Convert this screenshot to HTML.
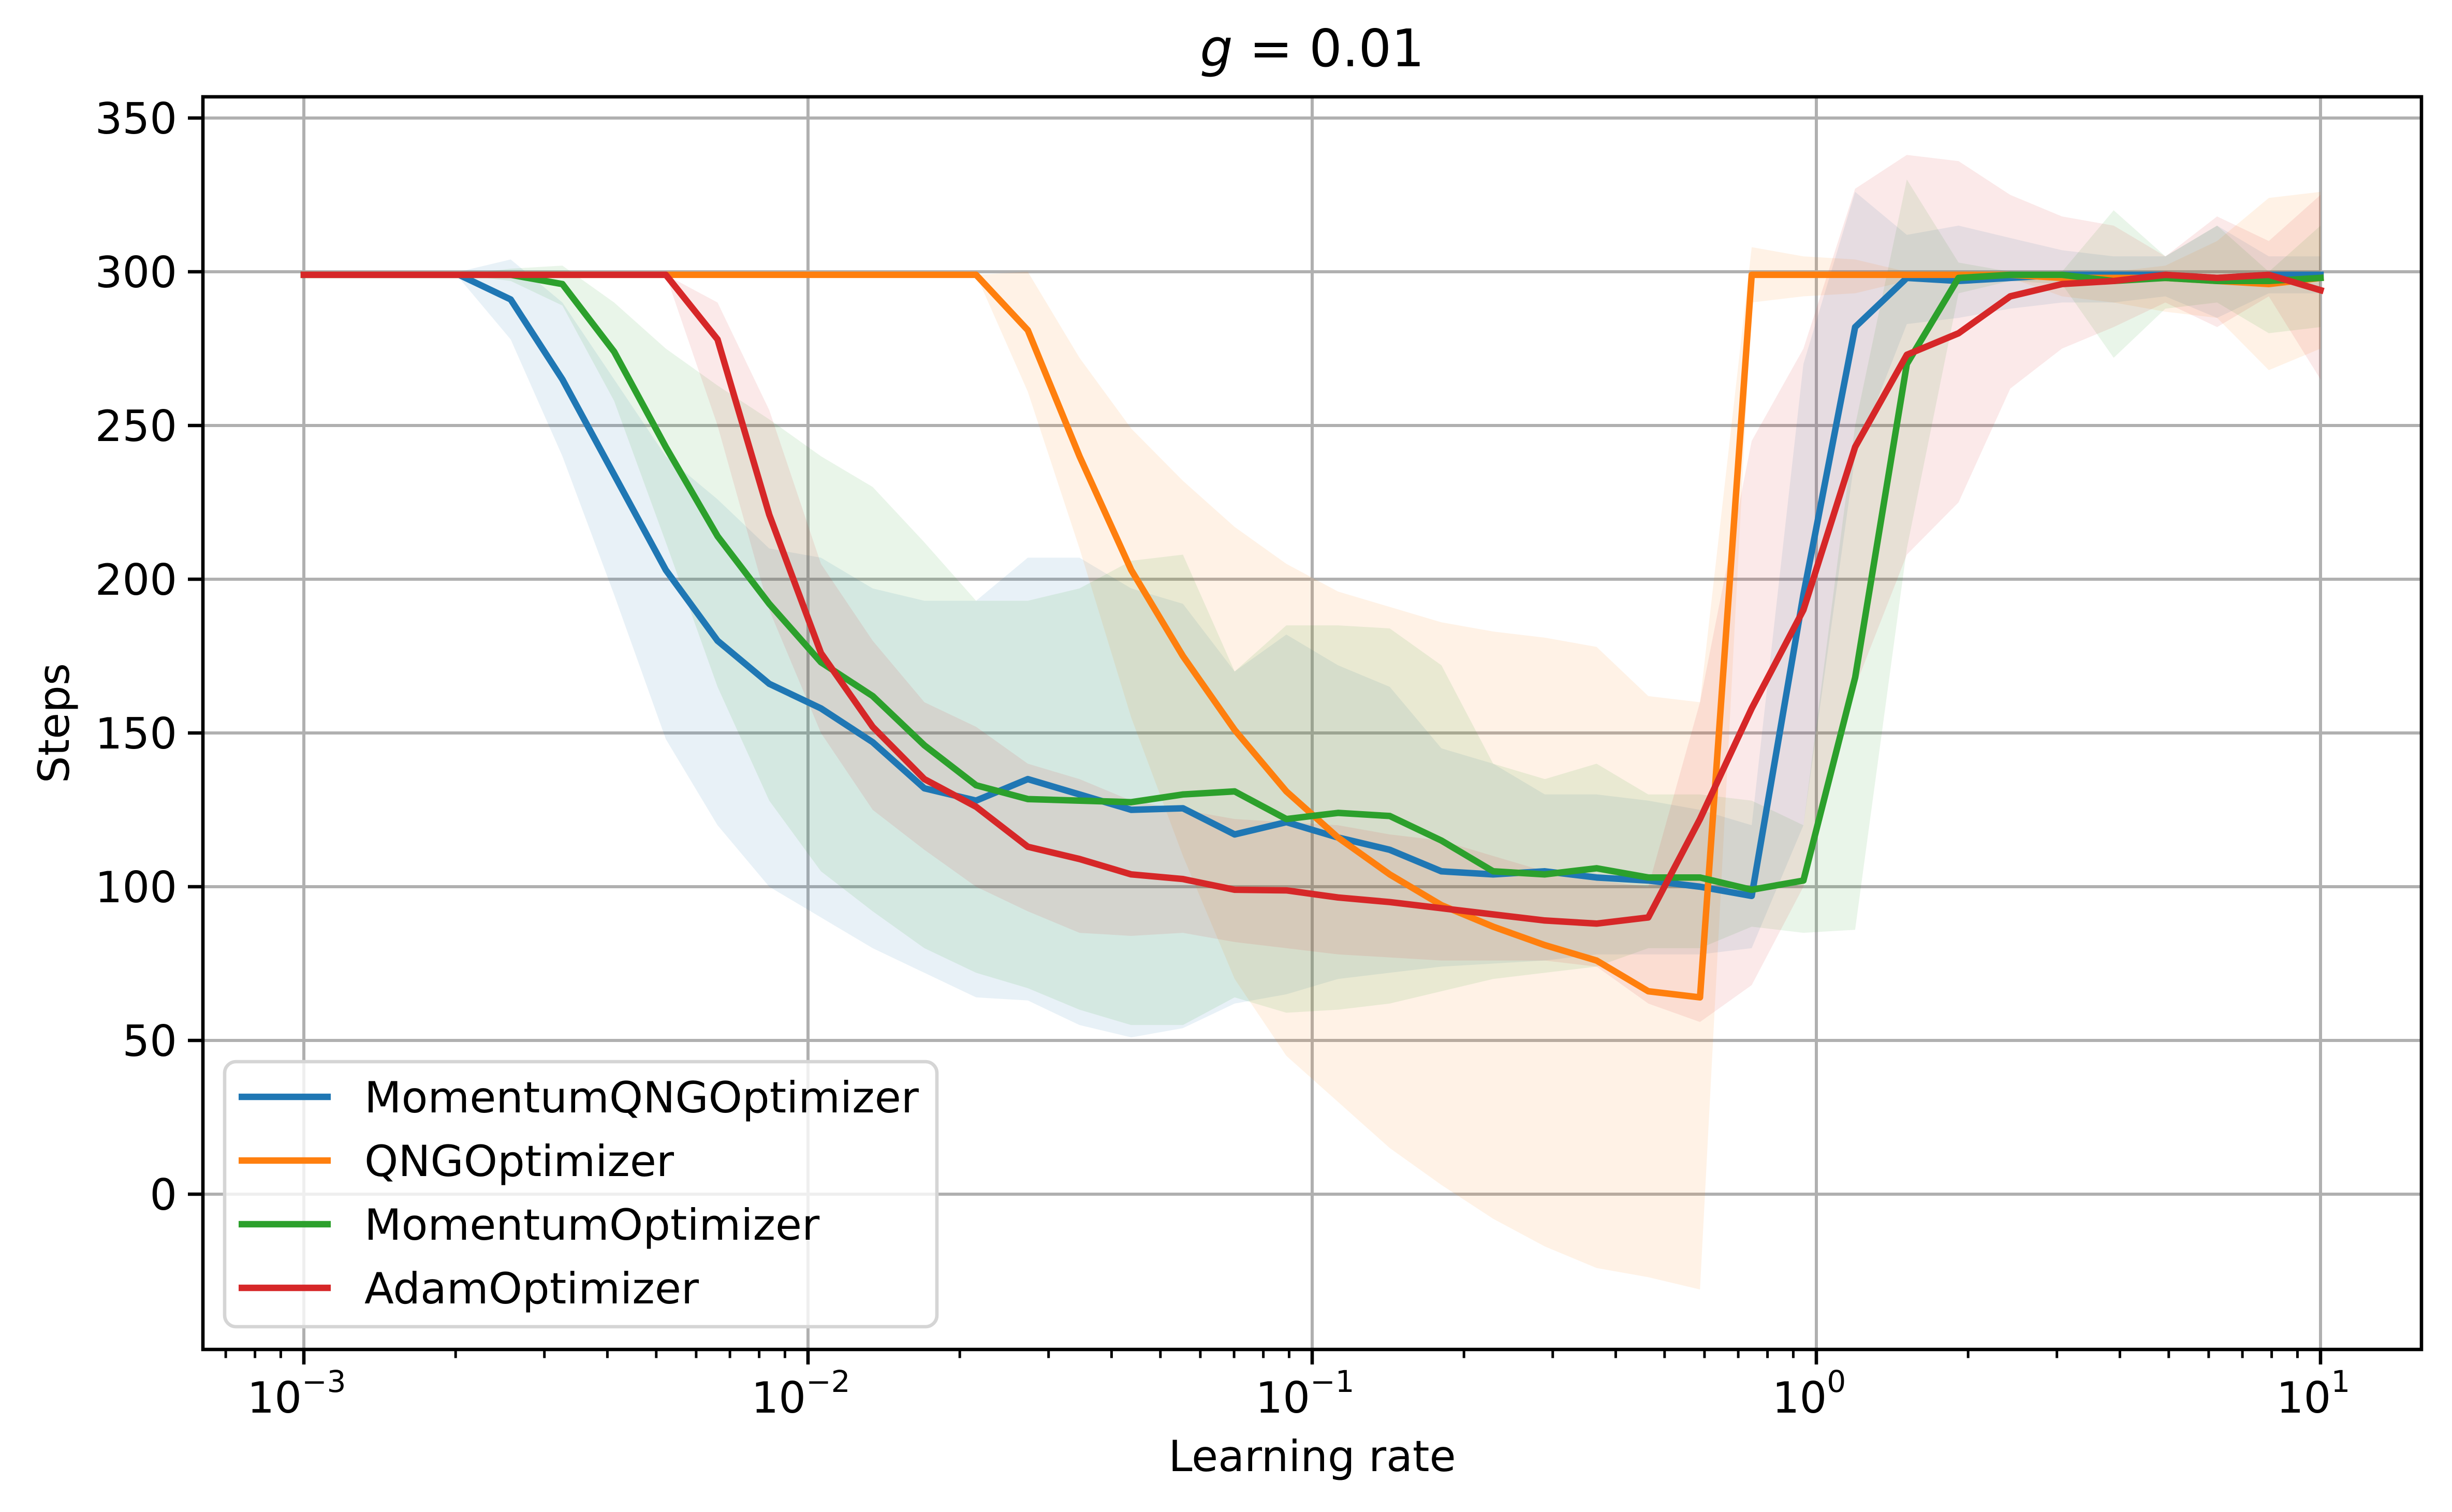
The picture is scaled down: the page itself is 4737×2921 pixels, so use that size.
<!DOCTYPE html>
<html><head><meta charset="utf-8"><style>
html,body{margin:0;padding:0;background:#fff;}
svg{display:block;font-family:"DejaVu Sans","Liberation Sans",sans-serif;}
</style></head><body>
<svg id="chart" xmlns="http://www.w3.org/2000/svg" width="4737" height="2921" viewBox="0 0 4737 2921">
<rect x="0" y="0" width="4737" height="2921" fill="#fff"/>
<g id="grid"></g>
<g id="bands"></g>
<g id="lines"></g>
<g id="axes"></g>
<text x="2535" y="128" font-size="100" text-anchor="middle"><tspan font-style="italic">g</tspan> = 0.01</text>
<text x="2535" y="2842" font-size="83" text-anchor="middle">Learning rate</text>
<text x="0" y="0" font-size="83" text-anchor="middle" transform="translate(133,1397) rotate(-90)">Steps</text>
<g id="legend"></g>
</svg>
<script>
const seriesNames = ["MomentumQNGOptimizer","QNGOptimizer","MomentumOptimizer","AdamOptimizer"];
const seriesColors = ["#1f77b4","#ff7f0e","#2ca02c","#d62728"];
const yTicks = [0,50,100,150,200,250,300,350];
const yTickLabels = ["0","50","100","150","200","250","300","350"];
const xTickExps = [-3,-2,-1,0,1];
const xTickLabels = ["\u22123","\u22122","\u22121","0","1"];
const nPoints = 40;
const meanMQNG = [299,299,299,299,291,265,234,203,180,166,158,147,132,128,135,130,125,125.5,117,121,116,112,105,104,105,103,102,100,97,195,282,298,297,298,299,299,299,298,299,299];
const lowMQNG = [299,299,299,298,278,240,195,148,120,100,90,80,72,64,63,55,51,54,62,65,70,72,74,75,76,78,78,78,80,120,240,283,285,288,290,290,292,285,293,293];
const highMQNG = [299,299,299,300,304,290,265,240,226,210,207,197,193,193,207,207,197,192,170,182,172,165,145,140,130,130,128,125,120,270,326,312,315,311,307,305,305,315,305,305];
const meanQNG = [299,299,299,299,299,299,299,299,299,299,299,299,299,299,281,240,203,175,151,131,116,104,94,87,81,76,66,64,299,299,299,299,299,299,298,298,298,297,296,298];
const lowQNG = [299,299,299,299,299,299,299,299,299,299,299,299,299,299,261,210,155,110,70,45,30,15,3,-8,-17,-24,-27,-31,290,292,293,297,298,298,292,290,287,285,268,275];
const highQNG = [299,299,299,299,299,299,299,299,299,299,299,299,299,299,300,272,249,232,217,205,196,191,186,183,181,178,162,160,308,305,304,300,298,300,297,300,302,310,324,326];
const meanMom = [299,299,299,299,299,296,274,243,214,192,173,162,146,133,128.5,128,127.5,130,131,122,124,123,115,105,104,106,103,103,99,102,168,270,298,299,299,297,298,297,297,298];
const lowMom = [299,299,299,299,297,289,258,212,165,128,105,92,80,72,67,60,55,55,64,59,60,62,66,70,72,74,80,80,87,85,86,210,293,297,296,272,288,290,280,282];
const highMom = [299,299,299,299,301,302,290,275,263,252,240,230,212,193,193,197,206,208,170,185,185,184,172,140,135,140,130,130,128,120,250,330,303,300,300,320,305,315,300,315];
const meanAdam = [299,299,299,299,299,299,299,299,278,221,176,152,135,126,113,109,104,102.5,99,98.8,96.5,95,93,91,89,88,90,122,158,190,243,273,280,292,296,297,299,298,299,294];
const lowAdam = [299,299,299,299,299,299,299,299,250,190,150,125,112,100,92,85,84,85,82,80,78,77,76,76,76,74,62,56,68,100,165,208,225,262,275,282,290,282,292,265];
const highAdam = [299,299,299,299,299,299,299,299,290,255,205,180,160,152,140,135,128,125,122,121,120,117,115,110,105,102,100,160,245,275,327,338,336,325,318,315,305,318,310,325];
const means = [meanMQNG, meanQNG, meanMom, meanAdam];
const lows = [lowMQNG, lowQNG, lowMom, lowAdam];
const highs = [highMQNG, highQNG, highMom, highAdam];

const NS = "http://www.w3.org/2000/svg";
const L = 392, R = 4678, T = 187, B = 2607;
const X0 = 587, DEC = 974;
function xScale(lr){ return X0 + (Math.log10(lr) + 3) * DEC; }
function yScale(v){ return 525 - (v - 300) * 5.94; }
function lrAt(i){ return Math.pow(10, -3 + 4 * i / (nPoints - 1)); }
function mk(tag, attrs, parent){ const e = document.createElementNS(NS, tag); for (const k in attrs) e.setAttribute(k, attrs[k]); parent.appendChild(e); return e; }

const grid = document.getElementById('grid');
xTickExps.forEach(function(e){
  const x = xScale(Math.pow(10, e));
  const g = mk('line', {x1:x, x2:x, y1:T, y2:B, stroke:'#b0b0b0', 'stroke-width':6}, grid);
  
  
});
yTicks.forEach(function(v){
  const y = yScale(v);
  const g = mk('line', {x1:L, x2:R, y1:y, y2:y, stroke:'#b0b0b0', 'stroke-width':6}, grid);
  
  
});

const bands = document.getElementById('bands');
const lines = document.getElementById('lines');
for (let s = 0; s < 4; s++) {
  let pts = [];
  for (let i = 0; i < nPoints; i++) pts.push(xScale(lrAt(i)).toFixed(1) + ',' + yScale(highs[s][i]).toFixed(1));
  for (let i = nPoints - 1; i >= 0; i--) pts.push(xScale(lrAt(i)).toFixed(1) + ',' + yScale(lows[s][i]).toFixed(1));
  const b = mk('polygon', {points: pts.join(' '), fill: seriesColors[s], 'fill-opacity': 0.1}, bands);
  
  
}
for (let s = 0; s < 4; s++) {
  let pts = [];
  for (let i = 0; i < nPoints; i++) pts.push(xScale(lrAt(i)).toFixed(1) + ',' + yScale(means[s][i]).toFixed(1));
  const l = mk('polyline', {points: pts.join(' '), fill: 'none', stroke: seriesColors[s], 'stroke-width': 12.5, 'stroke-linejoin': 'round', 'stroke-linecap': 'square'}, lines);
  
  
}

const axes = document.getElementById('axes');
const frame = mk('rect', {x:L, y:T, width:R-L, height:B-T, fill:'none', stroke:'#000', 'stroke-width':6.6}, axes);


xTickExps.forEach(function(e, k){
  const x = xScale(Math.pow(10, e));
  const t = mk('line', {x1:x, x2:x, y1:B, y2:B+29, stroke:'#000', 'stroke-width':6.6}, axes);
  
  
  const tx = mk('text', {x:x - 14, y:2729, 'font-size':83, 'text-anchor':'middle'}, axes);
  
  
  tx.textContent = '10';
  const sup = mk('tspan', {'font-size':58, dy:-40}, tx);
  sup.textContent = xTickLabels[k];
});
for (let e = -4; e <= 1; e++) {
  for (let m = 2; m <= 9; m++) {
    const v = m * Math.pow(10, e);
    const x = xScale(v);
    if (x < L || x > R) continue;
    const t = mk('line', {x1:x, x2:x, y1:B, y2:B+16.6, stroke:'#000', 'stroke-width':5}, axes);
    
    
  }
}
yTicks.forEach(function(v, k){
  const y = yScale(v);
  const t = mk('line', {x1:L-29, x2:L, y1:y, y2:y, stroke:'#000', 'stroke-width':6.6}, axes);
  
  
  const tx = mk('text', {x:L-50, y:y+30, 'font-size':83, 'text-anchor':'end'}, axes);
  
  
  tx.textContent = yTickLabels[k];
});

const legend = document.getElementById('legend');
const lb = mk('rect', {x:434, y:2051, width:1376, height:512, rx:22, fill:'#fff', 'fill-opacity':0.8, stroke:'#d5d5d5', 'stroke-width':6.6}, legend);


const rowY = [2119, 2242, 2365, 2488];
for (let s = 0; s < 4; s++) {
  const h = mk('line', {x1:461, x2:639, y1:rowY[s], y2:rowY[s], stroke:seriesColors[s], 'stroke-width':12.5}, legend);
  
  
  const t = mk('text', {x:704, y:rowY[s]+30, 'font-size':83}, legend);
  
  
  t.textContent = seriesNames[s];
}
</script>
</body></html>
